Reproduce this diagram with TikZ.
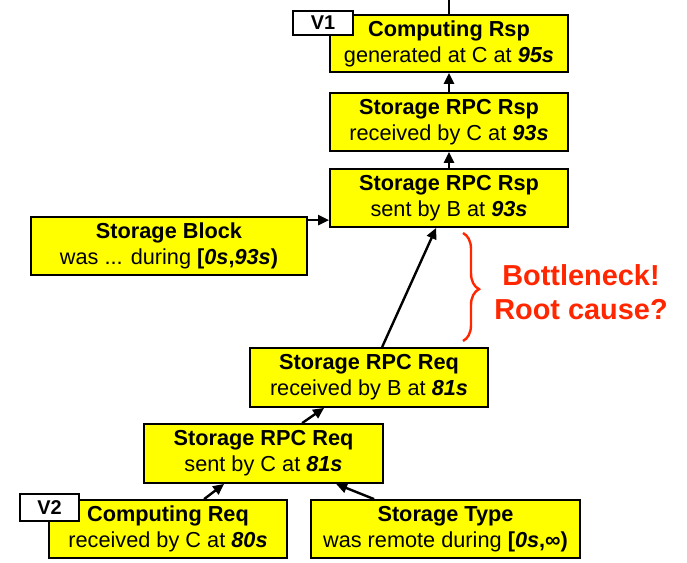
\documentclass[tikz,border=0pt]{standalone}
\usepackage{fontspec}
\setmainfont{Liberation Sans}
\usetikzlibrary{arrows.meta,decorations.pathreplacing,calc}
\definecolor{alertred}{RGB}{255,38,0}
\definecolor{boxyellow}{RGB}{255,255,0}
\newcommand{\tm}[1]{\textbf{\textit{#1}}}
\tikzset{
  event/.style={draw=black, fill=boxyellow, line width=1.8bp, rectangle,
    inner sep=0pt, align=center, font=\fontsize{21.8}{26}\selectfont},
  vtag/.style={draw=black, fill=white, line width=1.8bp, rectangle,
    inner sep=0pt, font=\fontsize{20}{22}\selectfont\bfseries},
  arr/.style={line width=2.4bp, -{Triangle[length=11bp,width=10bp]}},
}
\begin{document}
\begin{tikzpicture}[x=1bp,y=-1bp]
\useasboundingbox (0,0) rectangle (687,563);
\clip (0,0) rectangle (687,563);

% event boxes, top to bottom
\node[event, minimum width=238bp, minimum height=57bp] (comprsp) at (449,43.5)
  {\textbf{Computing Rsp}\\generated at C at \tm{95s}};
\node[event, minimum width=238bp, minimum height=58bp] (rsprecv) at (449,122)
  {\textbf{Storage RPC Rsp}\\received by C at \tm{93s}};
\node[event, minimum width=238bp, minimum height=58bp] (rspsent) at (449,198)
  {\textbf{Storage RPC Rsp}\\sent by B at \tm{93s}};
\node[event, minimum width=276bp, minimum height=58bp] (block) at (169,246)
  {\textbf{Storage Block}\\was ... during \textbf{[\textit{0s},\textit{93s})}};
\node[event, minimum width=238bp, minimum height=59bp] (reqrecv) at (369,377.5)
  {\textbf{Storage RPC Req}\\received by B at \tm{81s}};
\node[event, minimum width=239bp, minimum height=59bp] (reqsent) at (263.5,453.5)
  {\textbf{Storage RPC Req}\\sent by C at \tm{81s}};
\node[event, minimum width=238bp, minimum height=58bp] (compreq) at (168,529)
  {\textbf{Computing Req}\\received by C at \tm{80s}};
\node[event, minimum width=269bp, minimum height=58bp] (stype) at (445.5,529)
  {\textbf{Storage Type}\\was remote during \textbf{[\textit{0s},∞)}};

% version tags
\node[vtag, minimum width=60bp, minimum height=24bp] (v1) at (323,23) {V1};
\node[vtag, minimum width=59bp, minimum height=27bp] (v2) at (49.5,507.5) {V2};

% happens-before edges
\coordinate (up) at (449,-11);
\draw[arr] (comprsp.north) -- (up);
\draw[arr] (rsprecv.north) -- (comprsp.south);
\draw[arr] (rspsent.north) -- (rsprecv.south);
\draw[arr] ([yshift=-4bp]block.north east) -- ([yshift=-4bp]block.north east -| rspsent.west);
\draw[arr] ([xshift=133bp]reqrecv.north west) -- ([xshift=107bp]rspsent.south west);
\draw[arr] ([xshift=159bp]reqsent.north west) -- ([xshift=75bp]reqrecv.south west);
\draw[arr] ([xshift=156bp]compreq.north west) -- ([xshift=81bp]reqsent.south west);
\draw[arr] ([xshift=64bp]stype.north west) -- ([xshift=193bp]reqsent.south west);

% bottleneck annotation
\coordinate (btop) at (463,233);
\coordinate (bbot) at (463,341);
\draw[alertred, line width=2.4bp, decorate,
  decoration={brace, amplitude=16bp, aspect=0.52}] (btop) -- (bbot);
\node[text=alertred, align=center, font=\fontsize{29}{34}\selectfont\bfseries]
  (note) at (581,292) {Bottleneck!\\Root cause?};
\end{tikzpicture}
\end{document}
